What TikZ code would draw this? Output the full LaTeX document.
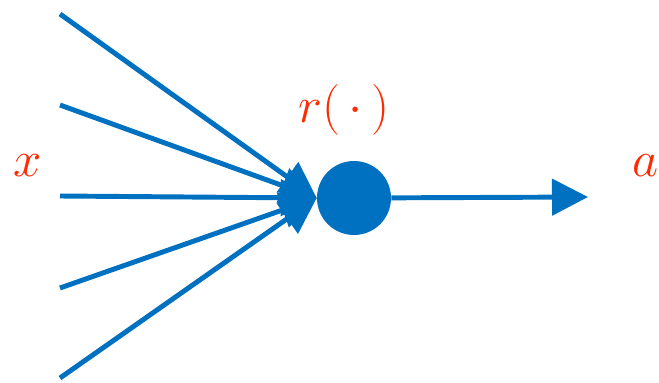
\documentclass[tikz,border=0pt]{standalone}
\usepackage{graphicx}
\usetikzlibrary{arrows.meta}
\definecolor{netblue}{HTML}{0070C0}
\definecolor{labelred}{HTML}{FF2A00}
\newcommand{\biglabel}[1]{\scalebox{1.53}{\Huge$#1$}}
\tikzstyle{unit} = [
    circle,
    fill=netblue,
    minimum size=55.5pt,
    inner sep=0pt
]
\tikzstyle{labeltext} = [
    text=labelred,
    inner sep=0pt
]
\tikzstyle{arrow} = [
    draw=netblue,
    line width=3.7pt,
    -{Triangle[length=27pt,width=27pt]}
]

\begin{document}
\begin{tikzpicture}[x=0.75pt, y=-0.75pt]
\useasboundingbox (0,0) rectangle (659,382);

\node (neuron) [unit] at (354,198) {};

\coordinate (in1) at (60,14);
\coordinate (in2) at (60,105);
\coordinate (in3) at (60,196);
\coordinate (in4) at (60,288);
\coordinate (in5) at (60,378);
\coordinate (out) at (588,197);

\node (xlab) [labeltext] at (28,166) {\biglabel{x}};
\node (rlab) [labeltext] at (344,110) {\biglabel{r(\,\cdot\,)}};
\node (alab) [labeltext] at (646,166) {\biglabel{a}};

\draw [arrow] (in1) -- (neuron.west);
\draw [arrow] (in2) -- (neuron.west);
\draw [arrow] (in3) -- (neuron.west);
\draw [arrow] (in4) -- (neuron.west);
\draw [arrow] (in5) -- (neuron.west);
\draw [arrow] (neuron) -- (out);

\end{tikzpicture}
\end{document}
